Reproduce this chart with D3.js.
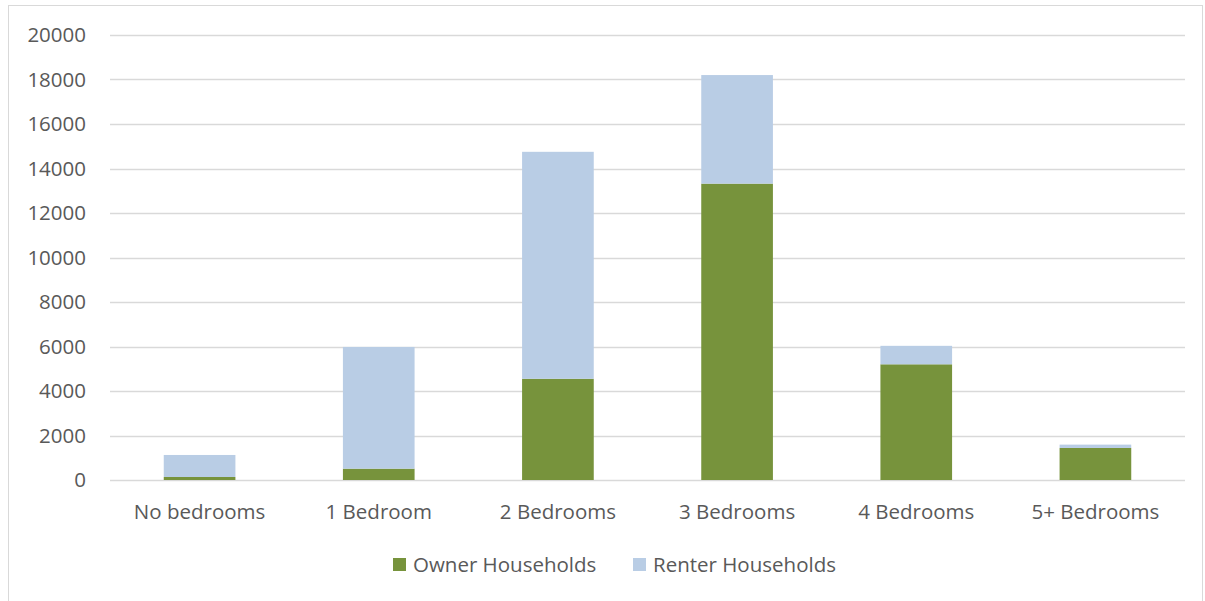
<script src="https://d3js.org/d3.v7.min.js"></script>
<style>
  body { margin: 0; background: #fff; }
  text { font-family: "Open Sans", sans-serif; fill: #595959; }
</style>
<div id="my_dataviz"></div>
<script>

// data
var categories = ["No bedrooms", "1 Bedroom", "2 Bedrooms", "3 Bedrooms", "4 Bedrooms", "5+ Bedrooms"]
var owner = [135, 510, 4550, 13320, 5200, 1440]
var renter = [990, 5470, 10200, 4880, 830, 150]
var yTicks = [0, 2000, 4000, 6000, 8000, 10000, 12000, 14000, 16000, 18000, 20000]
var keys = ["Owner Households", "Renter Households"]
var colors = ["#77933c", "#b9cde5"]

var W = 1205, H = 601
var fontSize = "20.5px"
var margin = {top: 35, right: 20, bottom: 121, left: 110},
    width = 1185 - margin.left,
    height = 480 - margin.top

var svg = d3.select("#my_dataviz")
  .append("svg")
    .attr("width", W)
    .attr("height", H)

// chart border
svg.append("rect")
  .attr("x", 8.5).attr("y", 5.5)
  .attr("width", 1194).attr("height", 600)
  .attr("fill", "none")
  .attr("stroke", "#d9d9d9")

var g = svg.append("g")
  .attr("transform", "translate(" + margin.left + "," + margin.top + ")")

var rows = categories.map(function(c, i) {
  return {cat: c, "Owner Households": owner[i], "Renter Households": renter[i]}
})
var stacked = d3.stack().keys(keys)(rows)

var x = d3.scaleBand()
  .domain(categories)
  .range([0, width])
  .padding(0)

var y = d3.scaleLinear()
  .domain([0, 20000])
  .range([height, 0])

var color = d3.scaleOrdinal().domain(keys).range(colors)

// gridlines
g.selectAll("line.grid")
  .data(yTicks)
  .enter()
  .append("line")
    .attr("class", "grid")
    .attr("x1", 0).attr("x2", width)
    .attr("y1", function(d){ return Math.round(y(d)) + 0.5 })
    .attr("y2", function(d){ return Math.round(y(d)) + 0.5 })
    .attr("stroke", "#d9d9d9")
    .attr("stroke-width", 1.3)

// y axis labels
var yAxis = g.append("g")
  .call(d3.axisLeft(y).tickValues(yTicks).tickSize(0).tickPadding(24).tickFormat(d3.format("d")))
yAxis.select(".domain").remove()
yAxis.selectAll("text")
  .style("font-family", "'Open Sans', sans-serif")
  .style("font-size", fontSize)
  .attr("fill", "#595959")

// bars
var barW = x.bandwidth() * 0.4
g.selectAll("g.layer")
  .data(stacked)
  .enter()
  .append("g")
    .attr("class", "layer")
    .attr("fill", function(d){ return color(d.key) })
  .selectAll("rect")
  .data(function(d){ return d })
  .enter()
  .append("rect")
    .attr("x", function(d){ return x(d.data.cat) + (x.bandwidth() - barW) / 2 })
    .attr("width", barW)
    .attr("y", function(d){ return y(d[1]) })
    .attr("height", function(d){ return y(d[0]) - y(d[1]) })

// x axis labels
var xAxis = g.append("g")
  .attr("transform", "translate(0," + height + ")")
  .call(d3.axisBottom(x).tickSize(0).tickPadding(24))
xAxis.select(".domain").remove()
xAxis.selectAll("text")
  .style("font-family", "'Open Sans', sans-serif")
  .style("font-size", fontSize)
  .attr("fill", "#595959")

// legend
var legend = svg.append("g")
var legendX = [393, 633]
keys.forEach(function(k, i) {
  legend.append("rect")
    .attr("x", legendX[i]).attr("y", 558)
    .attr("width", 13).attr("height", 13)
    .attr("fill", color(k))
  legend.append("text")
    .attr("x", legendX[i] + 20).attr("y", 572)
    .style("font-size", fontSize)
    .text(k)
})

</script>
